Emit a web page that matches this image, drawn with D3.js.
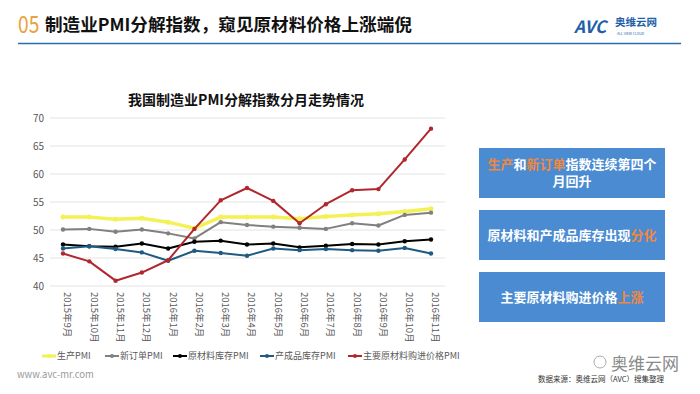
<!DOCTYPE html>
<html>
<head>
<meta charset="utf-8">
<script src="https://cdn.jsdelivr.net/npm/d3@7"></script>
<style>
body{margin:0;background:#fff;}
svg text{font-family:"Noto Sans CJK SC","Noto Sans",sans-serif;}
</style>
</head>
<body>
<div id="ChartDiv"></div>
<script>
var months = ["2015年9月","2015年10月","2015年11月","2015年12月","2016年1月","2016年2月","2016年3月","2016年4月","2016年5月","2016年6月","2016年7月","2016年8月","2016年9月","2016年10月","2016年11月"];
var prodPMI  = [52.3,52.3,51.9,52.1,51.4,50.3,52.3,52.3,52.3,52.0,52.4,52.7,52.9,53.3,53.8];
var orderPMI = [50.1,50.2,49.7,50.1,49.4,48.5,51.4,50.9,50.6,50.4,50.2,51.2,50.8,52.7,53.1];
var rawStock = [47.4,47.1,47.0,47.6,46.7,47.9,48.1,47.4,47.6,46.9,47.2,47.5,47.4,48.0,48.3];
var goodStock= [46.7,47.1,46.6,46.0,44.5,46.3,45.9,45.4,46.7,46.4,46.6,46.4,46.3,46.8,45.8];
var buyPrice = [45.8,44.4,40.95,42.4,44.6,50.2,55.3,57.5,55.2,51.2,54.6,57.1,57.3,62.6,68.1];
var yTicks = [40,45,50,55,60,65,70];
var seriesNames = ["生产PMI","新订单PMI","原材料库存PMI","产成品库存PMI","主要原材料购进价格PMI"];
var seriesColors = ["#f3f155","#808080","#000000","#1f5a82","#b0272d"];
var seriesData = [prodPMI, orderPMI, rawStock, goodStock, buyPrice];

var wd = 700, ht = 394;
var svg = d3.select('#ChartDiv')
	.append("svg")
	.attr("width",wd)
	.attr("height",ht);

// header
svg.append("text").attr("x",18).attr("y",33)
	.attr("font-size",24).attr("fill","#e9a23b")
	.attr("font-family","DejaVu Sans Condensed, sans-serif")
	.attr("transform","translate(18,33) scale(0.8,1) translate(-18,-33)")
	.text("05");
svg.append("text").attr("x",45).attr("y",31)
	.attr("font-size",17.6).attr("font-weight","bold").attr("fill","#111")
	.text("制造业PMI分解指数，窥见原材料价格上涨端倪");
svg.append("line").attr("x1",18).attr("x2",681).attr("y1",43.5).attr("y2",43.5)
	.attr("stroke","#2b6cb0").attr("stroke-width",1.5);

// logo
svg.append("text").attr("x",574).attr("y",33)
	.attr("font-size",17).attr("font-weight","bold").attr("fill","#1e5fa8")
	.attr("font-family","DejaVu Sans, sans-serif").attr("font-style","italic")
	.text("AVC");
svg.append("text").attr("x",615).attr("y",26)
	.attr("font-size",10.5).attr("font-weight","bold").attr("fill","#1e5fa8")
	.text("奥维云网");
svg.append("text").attr("x",617).attr("y",35)
	.attr("font-size",3.5).attr("fill","#1e5fa8")
	.text("ALL VIEW CLOUD");

// chart
var x = d3.scalePoint().domain(months).range([63,431]);
var y = d3.scaleLinear().domain([40,70]).range([286,118]);

svg.append("text").attr("x",246).attr("y",105).attr("text-anchor","middle")
	.attr("font-size",14).attr("font-weight","bold").attr("fill","#111")
	.text("我国制造业PMI分解指数分月走势情况");

var grid = svg.append("g");
grid.selectAll("line").data(yTicks).enter().append("line")
	.attr("x1",50).attr("x2",445)
	.attr("y1",function(d){return y(d);}).attr("y2",function(d){return y(d);})
	.attr("stroke","#e3e3e3").attr("stroke-width",1);

var yAxis = svg.append("g").attr("transform","translate(44,0)")
	.call(d3.axisLeft(y).tickValues(yTicks).tickSize(0).tickPadding(0));
yAxis.select(".domain").remove();
yAxis.selectAll("text").attr("font-size",10).attr("fill","#595959")
	.attr("font-family","Noto Sans, sans-serif");

var xAxis = svg.append("g").attr("transform","translate(0,292)")
	.call(d3.axisBottom(x).tickSize(0).tickPadding(0));
xAxis.select(".domain").remove();
xAxis.selectAll("text")
	.attr("font-size",9.5).attr("fill","#595959")
	.attr("text-anchor","start")
	.attr("dy",null).attr("y",0)
	.attr("transform","rotate(90) translate(0,-3.5)")
	.attr("dominant-baseline","middle");

var line = d3.line()
	.x(function(d,i){return x(months[i]);})
	.y(function(d){return y(d);});

seriesData.forEach(function(data,k){
	var g = svg.append("g");
	g.append("path").datum(data)
		.attr("d",line).attr("fill","none")
		.attr("stroke",seriesColors[k])
		.attr("stroke-width",k===0?3.5:2)
		.attr("stroke-linejoin","round");
	g.selectAll("circle").data(data).enter().append("circle")
		.attr("cx",function(d,i){return x(months[i]);})
		.attr("cy",function(d){return y(d);})
		.attr("r",k===0?2.5:2.2)
		.attr("fill",seriesColors[k]);
});

// legend
var legendX = [42,105,173,260,348];
var legend = svg.selectAll(".legendItem").data(seriesNames).enter().append("g")
	.attr("class","legendItem")
	.attr("transform",function(d,i){return "translate("+legendX[i]+",356)";});
legend.append("line").attr("x1",0).attr("x2",14).attr("y1",0).attr("y2",0)
	.attr("stroke",function(d,i){return seriesColors[i];})
	.attr("stroke-width",function(d,i){return i===0?3:2;});
legend.append("circle").attr("cx",7).attr("cy",0).attr("r",2)
	.attr("fill",function(d,i){return seriesColors[i];});
legend.append("text").attr("x",15).attr("y",0).attr("dy","0.35em")
	.attr("font-size",9).attr("fill","#595959")
	.text(function(d){return d;});

// right boxes
var boxes = [
	{y:148,h:50,lines:[[["生产","o"],["和","w"],["新订单","o"],["指数连续第四个","w"]],[["月回升","w"]]]},
	{y:210,h:50,lines:[[["原材料和产成品库存出现","w"],["分化","o"]]]},
	{y:272,h:50,lines:[[["主要原材料购进价格","w"],["上涨","o"]]]}
];
var boxG = svg.selectAll(".box").data(boxes).enter().append("g").attr("class","box");
boxG.append("rect").attr("x",479).attr("y",function(d){return d.y;})
	.attr("width",186).attr("height",function(d){return d.h;})
	.attr("fill","#4a8bd2");
boxG.each(function(d){
	var g = d3.select(this);
	var n = d.lines.length;
	d.lines.forEach(function(ln,j){
		var t = g.append("text").attr("x",572)
			.attr("y",d.y+d.h/2+(j-(n-1)/2)*17)
			.attr("dy","0.35em").attr("text-anchor","middle")
			.attr("font-size",13).attr("font-weight","bold");
		ln.forEach(function(seg){
			t.append("tspan").attr("fill",seg[1]==="o"?"#f0883e":"#ffffff").text(seg[0]);
		});
	});
});

// footer
svg.append("text").attr("x",17).attr("y",378).attr("font-size",9.5).attr("fill","#9a9a9a")
	.attr("font-family","Noto Sans, sans-serif").text("www.avc-mr.com");
svg.append("text").attr("x",611).attr("y",370).attr("font-size",17).attr("fill","#8a8a8a")
	.text("奥维云网");
svg.append("circle").attr("cx",600).attr("cy",362).attr("r",6)
	.attr("fill","none").attr("stroke","#aaa").attr("stroke-width",1);
svg.append("text").attr("x",538).attr("y",382).attr("font-size",7.5).attr("fill","#333")
	.text("数据来源：奥维云网（AVC）搜集整理");
</script>
</body>
</html>
